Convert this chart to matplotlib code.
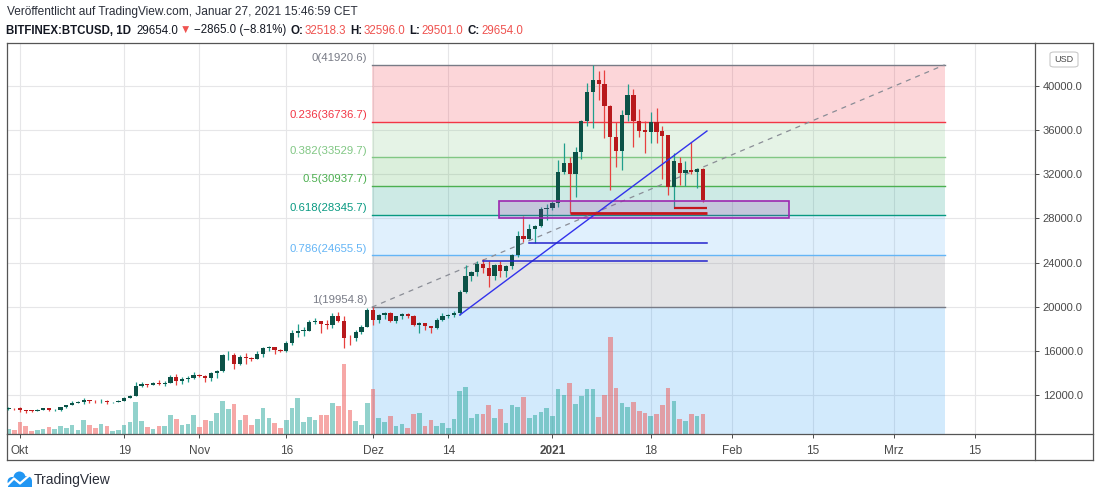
import numpy as np
import pandas as pd
import matplotlib
matplotlib.use("Agg")
import matplotlib.pyplot as plt
import matplotlib.transforms as mtransforms
from matplotlib.patches import Rectangle, FancyBboxPatch, Circle
from matplotlib.lines import Line2D

plt.rcParams['font.family'] = ['Liberation Sans', 'DejaVu Sans']

W, H = 1100, 498

# BITFINEX:BTCUSD daily candles
dates = pd.date_range("2020-09-29", "2021-01-27", freq="D")
opens = [10700, 10840, 10780, 10620, 10570, 10550, 10670, 10790, 10600, 10670,
         10920, 11060, 11300, 11380, 11550, 11430, 11420, 11500, 11330, 11370,
         11500, 11750, 11920, 12820, 12970, 12930, 13120, 13030, 13070, 13650,
         13270, 13460, 13560, 13800, 13760, 13560, 14030, 14150, 15590, 15600,
         14840, 15480, 15330, 15300, 15700, 16280, 16320, 16070, 15960, 16730,
         17660, 17800, 17820, 18660, 18700, 18420, 18370, 19160, 18730, 17150,
         17140, 17720, 18180, 19700, 18790, 19220, 19450, 18700, 19150, 19360,
         19170, 18330, 18550, 18260, 18040, 18810, 19170, 19270, 19440, 21360,
         22800, 23110, 23840, 23480, 22740, 23820, 23240, 23730, 24690, 26410,
         26150, 27010, 27320, 28850, 28990, 29390, 32190, 33000, 32000, 34040,
         36830, 39470, 40580, 40200, 38220, 35410, 34140, 37370, 39180, 36830,
         36050, 35850, 36770, 35900, 35550, 30880, 33050, 32090, 32390, 32240,
         32518.3]
highs = [10880, 10860, 10950, 10670, 10600, 10690, 10800, 10800, 10690, 10950,
         11110, 11490, 11440, 11720, 11560, 11560, 11620, 11540, 11400, 11520,
         11800, 12030, 13200, 13200, 13020, 13160, 13340, 13250, 13800, 13870,
         13650, 13700, 14100, 13900, 13820, 14070, 14250, 15750, 15970, 15770,
         15650, 15850, 15450, 15950, 16350, 16480, 16330, 16140, 16880, 17850,
         18470, 18150, 18790, 18960, 18750, 18770, 19420, 19490, 19150, 17450,
         17900, 18340, 19850, 19954.8, 19320, 19560, 19520, 19170, 19420, 19420,
         19290, 18640, 18560, 18290, 18950, 19420, 19340, 19580, 21560, 23770,
         23280, 24170, 24300, 24100, 23840, 24100, 23790, 24790, 26870, 28220,
         27500, 27400, 29000, 29300, 29600, 33300, 34800, 33600, 34450, 36900,
         40300, 41920.6, 41400, 41450, 38300, 36770, 37800, 40150, 39700, 37950,
         36800, 37680, 38030, 36400, 35600, 33900, 33600, 33200, 34900, 32600,
         32596.0]
lows = [10630, 10670, 10440, 10370, 10500, 10530, 10630, 10530, 10570, 10540,
        10830, 11060, 11280, 11220, 11300, 11290, 11290, 11200, 11320, 11360,
        11420, 11690, 11900, 12700, 12730, 12900, 12920, 12800, 13060, 12950,
        12990, 13150, 13430, 13620, 13200, 13300, 13530, 14100, 15200, 14350,
        14700, 14810, 15080, 15280, 15440, 15990, 15710, 15870, 15880, 16560,
        17220, 17350, 17770, 18400, 17620, 18000, 18060, 18600, 16300, 16520,
        16880, 17540, 18180, 18330, 18510, 18930, 18600, 18510, 18870, 19000,
        18250, 17650, 17930, 17580, 18020, 18740, 19000, 19060, 19250, 21240,
        22360, 22770, 23090, 21820, 22380, 22700, 22700, 23450, 24500, 25850,
        26100, 25750, 27260, 27850, 28800, 29000, 32000, 28500, 29900, 33400,
        36400, 36200, 38700, 35290, 30570, 32690, 32390, 36800, 34500, 35410,
        33900, 34800, 34810, 31570, 30130, 28980, 31030, 30970, 32000, 30790,
        29501.0]
closes = [10840, 10780, 10620, 10570, 10550, 10670, 10790, 10600, 10670, 10920,
          11060, 11300, 11380, 11550, 11430, 11420, 11500, 11330, 11370, 11500,
          11750, 11920, 12820, 12970, 12930, 13120, 13030, 13070, 13650, 13270,
          13460, 13560, 13800, 13760, 13560, 14030, 14150, 15590, 15600, 14840,
          15480, 15330, 15300, 15700, 16280, 16320, 16070, 15960, 16730, 17660,
          17800, 17820, 18660, 18700, 18420, 18370, 19160, 18730, 17150, 17140,
          17720, 18180, 19700, 18790, 19220, 19450, 18700, 19150, 19360, 19170,
          18330, 18550, 18260, 18040, 18810, 19170, 19270, 19440, 21360, 22800,
          23110, 23840, 23480, 22740, 23820, 23240, 23730, 24690, 26410, 26150,
          27010, 27320, 28850, 28990, 29390, 32190, 33000, 32000, 34040, 36830,
          39470, 40580, 40200, 38220, 35410, 34140, 37370, 39180, 36830, 35900,
          35850, 36770, 35860, 35500, 30880, 33210, 32090, 32390, 32240, 32518.3,
          29654.0]
volumes = [15, 12, 36, 25, 9, 12, 15, 21, 14, 24, 19, 27, 12, 42, 27, 18, 30, 24,
           9, 12, 27, 36, 96, 39, 21, 15, 24, 24, 57, 45, 27, 30, 57, 21, 42, 39,
           63, 99, 75, 90, 42, 57, 27, 45, 78, 48, 33, 18, 42, 78, 108, 36, 51, 42,
           57, 57, 93, 84, 210, 72, 39, 27, 93, 135, 48, 36, 54, 24, 30, 18, 60, 63,
           24, 42, 24, 33, 18, 45, 129, 141, 48, 60, 60, 87, 48, 75, 33, 87, 81, 111,
           48, 57, 66, 78, 54, 135, 117, 153, 90, 114, 135, 135, 51, 117, 291, 138,
           93, 81, 96, 69, 63, 54, 60, 87, 138, 99, 45, 39, 60, 54, 60]

# Fibonacci retracement drawn on the chart
fib_levels = [0, 0.236, 0.382, 0.5, 0.618, 0.786, 1, 1.618]
fib_prices = [41920.6, 36736.7, 33529.7, 30937.7, 28345.7, 24655.5, 19954.8, 6380.0]
fib_colors = ['#787b86', '#f23645', '#81c784', '#4caf50', '#089981', '#64b5f6',
              '#787b86', '#2196f3']
fib_start = pd.Timestamp("2020-11-30 19:00")
fib_end = pd.Timestamp("2021-03-09 19:00")

# other drawings
trend_start = (pd.Timestamp("2020-12-16"), 19250)
trend_end = (pd.Timestamp("2021-01-27 17:00"), 35920)
box_dates = (pd.Timestamp("2020-12-22 19:00"), pd.Timestamp("2021-02-10 22:00"))
box_prices = (28010, 29610)
red_lines = [(pd.Timestamp("2021-01-04"), 28490), (pd.Timestamp("2021-01-22"), 28980)]
navy_lines = [(pd.Timestamp("2020-12-28"), 25750), (pd.Timestamp("2020-12-20"), 24115)]
line_end = pd.Timestamp("2021-01-27 18:00")

tick_dates = ["2020-10-01", "2020-10-19", "2020-11-01", "2020-11-16", "2020-12-01",
              "2020-12-14", "2021-01-01", "2021-01-18", "2021-02-01", "2021-02-15",
              "2021-03-01", "2021-03-15"]
tick_labels = ["Okt", "19", "Nov", "16", "Dez", "14", "2021", "18", "Feb", "15",
               "Mrz", "15"]
price_ticks = [12000, 16000, 20000, 24000, 28000, 32000, 36000, 40000]

t0 = pd.Timestamp("2020-10-01")
def day(ts):
    return (pd.Timestamp(ts) - t0) / pd.Timedelta(days=1)

x = np.array([day(d) for d in dates])
o = np.array(opens); h = np.array(highs); l = np.array(lows); c = np.array(closes)
up = c >= o

UP_BODY, DN_BODY = '#0c5247', '#b8191c'
UP_WICK, DN_WICK = '#1f9e8c', '#e8413f'
AXC = '#4a4a4a'

fig = plt.figure(figsize=(W / 100, H / 100), dpi=100, facecolor='white')
ax = fig.add_axes([7 / W, (H - 434) / H, (1035 - 7) / W, (434 - 43) / H])
ax.set_xlim(-2.25, 175.4)
ax.set_ylim(8467, 43896)

# grid
ax.set_axisbelow(True)
ax.set_yticks(price_ticks)
ax.set_yticklabels([f"{p:.1f}" for p in price_ticks])
ax.set_xticks([day(d) for d in tick_dates])
ax.set_xticklabels(tick_labels)
ax.grid(True, color='#e6e6e8', lw=0.8)
ax.yaxis.tick_right()
ax.tick_params(axis='y', length=3, width=0.7, pad=2.5, labelsize=8,
               colors=AXC)
ax.tick_params(axis='x', length=3, width=0.7, pad=5, labelsize=8.5,
               colors=AXC)
ax.get_xticklabels()[6].set_fontweight('bold')
for s in ax.spines.values():
    s.set_color('#555555')
    s.set_linewidth(0.9)

# fib fills and lines
fx0, fx1 = day(fib_start), day(fib_end)
for i in range(len(fib_prices) - 1):
    ax.fill_between([fx0, fx1], fib_prices[i + 1], fib_prices[i],
                    color=fib_colors[i + 1], alpha=0.2, lw=0, zorder=1)
for lvl, p, col in zip(fib_levels[:-1], fib_prices[:-1], fib_colors[:-1]):
    ax.plot([fx0, fx1], [p, p], color=col, lw=1.0, zorder=3)
    ax.annotate(f"{lvl:g}({p:.1f})", xy=(fx0, p), xytext=(-3.2, 1.3),
                textcoords='offset points', ha='right', va='bottom',
                fontsize=8.2, color=col, zorder=6)
ax.plot([fx0, fx1], [fib_prices[6], fib_prices[0]], color='#8a8d96', lw=0.9,
        ls=(0, (4, 4)), zorder=3)

# volume, on its own vertical scale at the bottom
VOL_TOP = 1173
vol_tf = mtransforms.blended_transform_factory(
    ax.transData, mtransforms.Affine2D().scale(1, 1 / VOL_TOP) + ax.transAxes)
vcols = np.where(up, '#26a69a', '#ef5350')
bars = ax.bar(x, volumes, width=0.8, color=vcols, alpha=0.5, lw=0, zorder=2)
for b in bars:
    b.set_transform(vol_tf)

# candles
wick_cols = np.where(up, UP_WICK, DN_WICK)
body_cols = np.where(up, UP_BODY, DN_BODY)
ax.vlines(x, l, h, colors=wick_cols, lw=0.9, zorder=4)
ax.bar(x, np.maximum(np.abs(c - o), 70), bottom=np.minimum(o, c), width=0.74,
       color=body_cols, lw=0, zorder=4.5)

# drawings
ax.add_patch(Rectangle((day(box_dates[0]), box_prices[0]),
                       day(box_dates[1]) - day(box_dates[0]),
                       box_prices[1] - box_prices[0],
                       facecolor=(0.61, 0.15, 0.69, 0.18), edgecolor='#9c27b0',
                       lw=1.2, zorder=5))
ax.plot([day(trend_start[0]), day(trend_end[0])], [trend_start[1], trend_end[1]],
        color='#3232ec', lw=1.0, zorder=5)
for d, p in navy_lines:
    ax.plot([day(d), day(line_end)], [p, p], color='#2323cc', lw=1.1, zorder=5)
for (d, p), lw in zip(red_lines, [2.0, 1.6]):
    ax.plot([day(d), day(line_end)], [p, p], color='#c4161c', lw=lw, zorder=5,
            solid_capstyle='butt')

# frame around price scale and time axis
def fline(x0, y0, x1, y1):
    fig.add_artist(Line2D([x0 / W, x1 / W], [1 - y0 / H, 1 - y1 / H],
                          transform=fig.transFigure, color='#555555', lw=0.9))
fline(1035, 43, 1093, 43)
fline(1093, 43, 1093, 460)
fline(7, 460, 1093, 460)
fline(7, 434, 7, 460)
fline(1035, 434, 1093, 434)
fline(1035, 434, 1035, 460)

fig.add_artist(FancyBboxPatch((1050 / W, 1 - 67 / H), 28 / W, 15 / H,
                              boxstyle="round,pad=0,rounding_size=0.004",
                              transform=fig.transFigure, facecolor='white',
                              edgecolor='#c9c9c9', lw=0.8))
fig.text(1064 / W, 1 - 59.5 / H, "USD", fontsize=6.5, color=AXC,
         ha='center', va='center')

# header
fig.text(7 / W, 1 - 12.5 / H,
         "Veröffentlicht auf TradingView.com, Januar 27, 2021 15:46:59 CET",
         fontsize=8.6, color='#2a2e39', va='center')

renderer = fig.canvas.get_renderer()
pieces = [("BITFINEX:BTCUSD, 1D", '#131722', 'bold', 0),
          ("29654.0", '#131722', 'normal', 5),
          ("\u25bc", '#ef5350', 'normal', 1.5),
          ("\u22122865.0 (\u22128.81%)", '#131722', 'normal', 3),
          ("O:", '#131722', 'bold', 4.5),
          ("32518.3", '#ef5350', 'normal', 1),
          ("H:", '#131722', 'bold', 4.5),
          ("32596.0", '#ef5350', 'normal', 1),
          ("L:", '#131722', 'bold', 4.5),
          ("29501.0", '#ef5350', 'normal', 1),
          ("C:", '#131722', 'bold', 4.5),
          ("29654.0", '#ef5350', 'normal', 1)]
cx = 6
for s, col, wt, gap in pieces:
    cx += gap
    t = fig.text(cx / W, 1 - 30.5 / H, s, fontsize=8.3, color=col,
                 fontweight=wt, va='center')
    cx += t.get_window_extent(renderer).width

# TradingView logo
ident = mtransforms.IdentityTransform()
logo_col = '#2196f3'
for cx_, cy_, r in [(12, 481.5, 4.5), (19.5, 477.5, 6.0), (27, 481, 5.0)]:
    fig.add_artist(Circle((cx_, H - cy_), r, transform=ident, color=logo_col, lw=0))
fig.add_artist(Rectangle((8, H - 486.5), 24, 5.5, transform=ident,
                         color=logo_col, lw=0))
fig.add_artist(Line2D([8, 14, 20, 31], [H - 484.5, H - 478.5, H - 483.5, H - 474],
                      transform=ident, color='white', lw=1.6))
fig.text(34 / W, 1 - 479.5 / H, "TradingView", fontsize=10, color='#2a2e39',
         va='center')

fig.savefig("out.png", dpi=100, facecolor='white')
